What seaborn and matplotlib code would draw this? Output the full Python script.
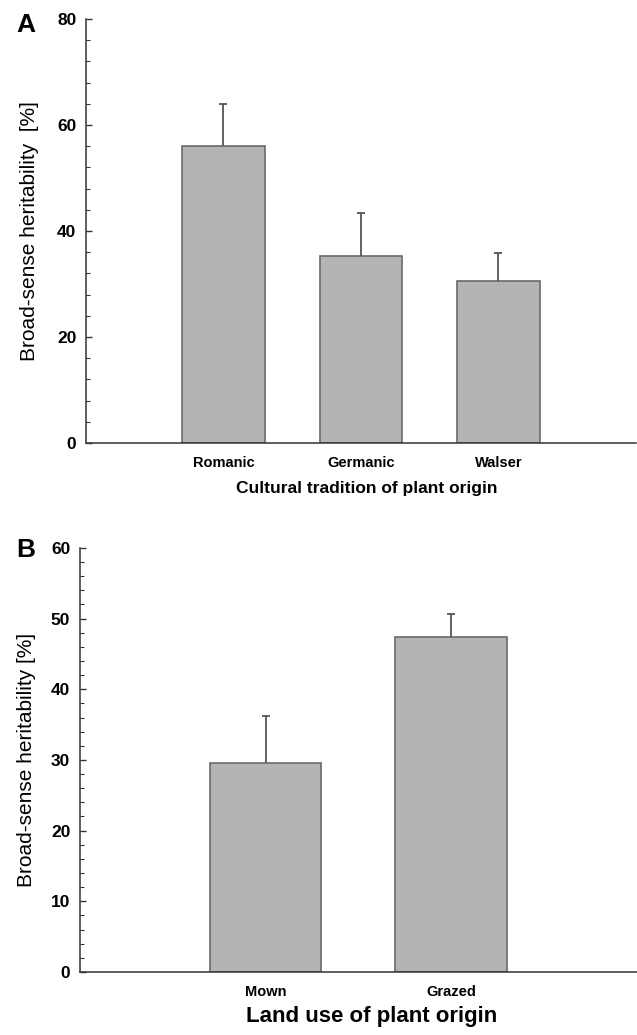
import matplotlib
matplotlib.use("Agg")
import matplotlib.pyplot as plt
import seaborn as sns
import pandas as pd
from matplotlib.ticker import MultipleLocator

# Panel A data
tradition = ["Romanic", "Germanic", "Walser"]
tradition_h2 = [56.0, 35.3, 30.6]
tradition_se = [8.0, 8.1, 5.2]

# Panel B data
land_use = ["Mown", "Grazed"]
land_use_h2 = [29.6, 47.4]
land_use_se = [6.6, 3.2]

sns.set_theme(style="ticks")
plt.rcParams["font.family"] = ["Liberation Sans", "DejaVu Sans"]
plt.rcParams["text.color"] = "black"
plt.rcParams["axes.labelcolor"] = "black"
plt.rcParams["xtick.labelcolor"] = "black"
plt.rcParams["ytick.labelcolor"] = "black"

bar_fill = "#b4b4b4"
bar_edge = "#6a6a6a"
axis_col = "#333333"

fig = plt.figure(figsize=(6.37, 10.35), dpi=100)
ax_a = fig.add_axes([0.135, 0.572, 0.8634, 0.4097])
ax_b = fig.add_axes([0.1256, 0.0609, 0.874, 0.4097])


def draw_panel(ax, cats, vals, errs, ymax, major, minor, xlabel, xlabel_size, xlabel_x,
               xlabel_pad, ylabel, label_x):
    df = pd.DataFrame({"cat": cats, "val": vals})
    sns.barplot(data=df, x="cat", y="val", ax=ax, color=bar_fill, width=0.6,
                edgecolor=bar_edge, linewidth=1.2, saturation=1)
    eb = ax.errorbar(range(len(cats)), vals, yerr=[[0] * len(cats), errs], fmt="none",
                     ecolor="#555555", elinewidth=1.3, capsize=3, capthick=1.3)
    # hide the lower caps, only the upper whisker is shown
    eb[1][0].set_visible(False)
    ax.set_xlim(-1, len(cats))
    ax.set_ylim(0, ymax)
    ax.yaxis.set_major_locator(MultipleLocator(major))
    ax.yaxis.set_minor_locator(MultipleLocator(minor))
    ax.tick_params(axis="y", which="major", direction="in", length=4, width=1,
                   color=axis_col, labelsize=12.5, pad=7)
    ax.tick_params(axis="y", which="minor", direction="in", length=3, width=0.8,
                   color=axis_col)
    ax.tick_params(axis="x", length=0, labelsize=10.5, pad=9.5)
    for lab in ax.get_xticklabels() + ax.get_yticklabels():
        lab.set_fontweight("bold")
    for s in ["top", "right"]:
        ax.spines[s].set_visible(False)
    for s in ["left", "bottom"]:
        ax.spines[s].set_color(axis_col)
        ax.spines[s].set_linewidth(1.1)
    ax.set_xlabel(xlabel, fontsize=xlabel_size, fontweight="bold", labelpad=xlabel_pad)
    ax.xaxis.label.set_x(xlabel_x)
    ax.set_ylabel(ylabel, fontsize=15)
    ax.yaxis.set_label_coords(label_x, 0.5)


draw_panel(ax_a, tradition, tradition_h2, tradition_se, 80, 20, 4,
           "Cultural tradition of plant origin", 12.5, 0.511, 8,
           "Broad-sense heritability  [%]", -0.085)
draw_panel(ax_b, land_use, land_use_h2, land_use_se, 60, 10, 2,
           "Land use of plant origin", 16, 0.524, 5,
           "Broad-sense heritability [%]", -0.079)

fig.text(26 / 637, 1 - 25 / 1035, "A", fontsize=19, fontweight="bold", ha="center", va="center")
fig.text(26 / 637, 1 - 550 / 1035, "B", fontsize=19, fontweight="bold", ha="center", va="center")

fig.savefig("out.png", dpi=100)
